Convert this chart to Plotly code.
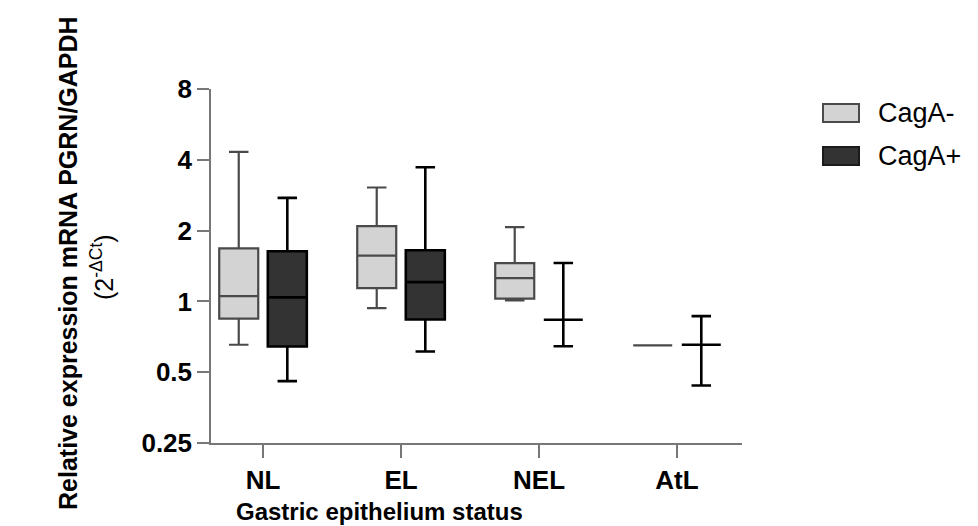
import plotly.graph_objects as go

# ---- data ----
categories = ["NL", "EL", "NEL", "AtL"]

neg_lower  = [0.654, 0.936, 1.010, 0.650]
neg_q1     = [0.844, 1.139, 1.027, 0.650]
neg_median = [1.053, 1.566, 1.257, 0.650]
neg_q3     = [1.680, 2.090, 1.456, 0.650]
neg_upper  = [4.320, 3.050, 2.070, 0.650]

pos_lower  = [0.458, 0.612, 0.645, 0.439]
pos_q1     = [0.643, 0.838, 0.836, 0.654]
pos_median = [1.040, 1.208, 0.836, 0.654]
pos_q3     = [1.633, 1.649, 0.836, 0.654]
pos_upper  = [2.755, 3.720, 1.456, 0.866]

y_tickvals = [0.25, 0.5, 1, 2, 4, 8]
y_ticktext = ["0.25", "0.5", "1", "2", "4", "8"]

series_names = ["CagA-", "CagA+"]

# ---- layout geometry ----
W, H = 978, 526
L, R, T, B = 211, 236, 89, 83
PW = W - L - R
PH = H - T - B
FONT = "Liberation Sans, Arial, Helvetica, sans-serif"


def px(x):
    return (x - L) / PW


def py(y):
    return (H - B - y) / PH


fig = go.Figure()

fig.add_trace(go.Box(
    name=series_names[0], x=categories,
    q1=neg_q1, median=neg_median, q3=neg_q3,
    lowerfence=neg_lower, upperfence=neg_upper,
    fillcolor="#d3d3d3", line=dict(color="#4a4a4a", width=2.2),
    whiskerwidth=0.5, boxpoints=False, showlegend=False,
))
fig.add_trace(go.Box(
    name=series_names[1], x=categories,
    q1=pos_q1, median=pos_median, q3=pos_q3,
    lowerfence=pos_lower, upperfence=pos_upper,
    fillcolor="#333333", line=dict(color="#000000", width=2.6),
    whiskerwidth=0.5, boxpoints=False, showlegend=False,
))

fig.update_layout(
    width=W, height=H,
    margin=dict(l=L, r=R, t=T, b=B),
    paper_bgcolor="white", plot_bgcolor="white",
    boxmode="group", boxgap=0.296, boxgroupgap=0.197,
    font=dict(family=FONT, color="black"),
)

fig.update_xaxes(
    type="category", range=[-0.377, 3.471],
    showline=True, linecolor="#777777", linewidth=1.5,
    ticks="outside", ticklen=13, tickcolor="#777777", tickwidth=1.5,
    tickfont=dict(size=26, family=FONT, color="black", weight="bold"),
    showgrid=False, zeroline=False,
)
fig.update_yaxes(
    type="log", range=[-0.60206, 0.90309],
    tickvals=y_tickvals, ticktext=y_ticktext,
    showline=True, linecolor="#777777", linewidth=1.5,
    ticks="outside", ticklen=12, tickcolor="#777777", tickwidth=1.5,
    tickfont=dict(size=26, family=FONT, color="black", weight="bold"),
    showgrid=False, zeroline=False,
)

# axis titles
fig.add_annotation(
    text="<b>Gastric epithelium status</b>", xref="paper", yref="paper",
    x=px(379), y=py(511), showarrow=False, xanchor="center", yanchor="middle",
    font=dict(size=24, family=FONT, color="black"),
)
fig.add_annotation(
    text="<b>Relative expression mRNA PGRN/GAPDH</b>", xref="paper", yref="paper",
    x=px(68), y=py(263), showarrow=False, xanchor="center", yanchor="middle",
    textangle=-90, font=dict(size=25, family=FONT, color="black"),
)
fig.add_annotation(
    text="(2<sup>-\u0394Ct</sup>)", xref="paper", yref="paper",
    x=px(102), y=py(267), showarrow=False, xanchor="center", yanchor="middle",
    textangle=-90, font=dict(size=25, family=FONT, color="black"),
)

# legend (drawn manually to match the large swatches)
legend_fill = ["#d3d3d3", "#333333"]
legend_line = ["#4a4a4a", "#1a1a1a"]
legend_y = [113, 156]
for name, fc, lc, yc in zip(series_names, legend_fill, legend_line, legend_y):
    fig.add_shape(
        type="rect", xref="paper", yref="paper",
        x0=px(823), x1=px(859), y0=py(yc - 9), y1=py(yc + 9),
        fillcolor=fc, line=dict(color=lc, width=2),
    )
    fig.add_annotation(
        text=name, xref="paper", yref="paper",
        x=px(876), y=py(yc), showarrow=False, xanchor="left", yanchor="middle",
        font=dict(size=27, family=FONT, color="black"),
    )

fig.write_html("out.html")
